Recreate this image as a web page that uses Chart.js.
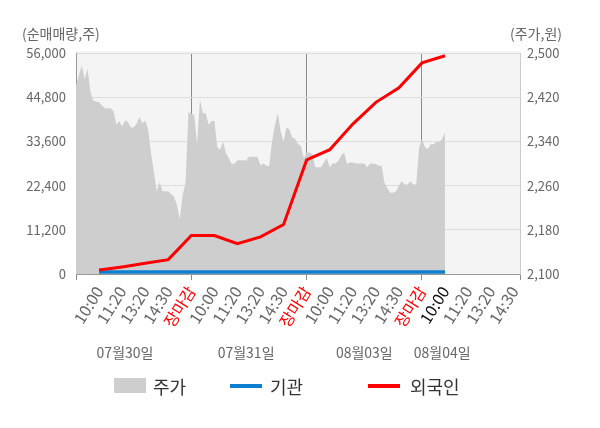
<!DOCTYPE html>
<html>
<head>
<meta charset="utf-8">
<script src="https://cdn.jsdelivr.net/npm/chart.js@4.4.0/dist/chart.umd.min.js"></script>
<style>
  body { margin: 0; background: #fff; }
  #wrap { position: relative; width: 600px; height: 428px; font-family: "Noto Sans CJK KR", "Noto Sans", sans-serif; }
  .lg { position: absolute; top: 374px; font-size: 18px; line-height: 24px; color: #333; }
  .mark { position: absolute; }
</style>
</head>
<body>
<div id="wrap">
  <canvas id="chart" width="600" height="428"></canvas>
  <div class="mark" style="left:114px;top:378px;width:32px;height:15px;background:#cecece"></div>
  <div class="lg" style="left:153px">주가</div>
  <div class="mark" style="left:230px;top:384px;width:32px;height:4px;background:#0b7fd0"></div>
  <div class="lg" style="left:270px">기관</div>
  <div class="mark" style="left:368px;top:384px;width:32px;height:4px;background:#ff0000"></div>
  <div class="lg" style="left:410px">외국인</div>
</div>
<script>
// x labels, one per slot
const timeLabels = [
  "10:00", "11:20", "13:20", "14:30", "장마감",
  "10:00", "11:20", "13:20", "14:30", "장마감",
  "10:00", "11:20", "13:20", "14:30", "장마감",
  "10:00", "11:20", "13:20", "14:30"
];
const dayLabels = ["07월30일", "07월31일", "08월03일", "08월04일"];

// price (원), 8 points per slot, from 09:00 of 07/30 to 10:00 of 08/04
const priceData = [
  2440, 2460, 2477, 2453, 2471, 2429, 2414, 2412, 2411, 2405,
  2400, 2400, 2400, 2395, 2370, 2377, 2367, 2378, 2375, 2365,
  2365, 2372, 2384, 2373, 2378, 2362, 2320, 2285, 2250, 2266,
  2250, 2250, 2250, 2245, 2240, 2225, 2199, 2244, 2265, 2393,
  2390, 2388, 2335, 2416, 2391, 2391, 2370, 2377, 2377, 2330,
  2325, 2340, 2318, 2310, 2299, 2300, 2306, 2306, 2306, 2305,
  2312, 2312, 2312, 2312, 2296, 2300, 2296, 2295, 2340, 2370,
  2391, 2358, 2340, 2365, 2362, 2347, 2345, 2335, 2332, 2310,
  2320, 2320, 2317, 2293, 2293, 2293, 2302, 2310, 2293, 2300,
  2300, 2305, 2315, 2320, 2299, 2302, 2302, 2300, 2300, 2300,
  2300, 2293, 2300, 2300, 2299, 2296, 2296, 2265, 2255, 2247,
  2247, 2250, 2260, 2268, 2262, 2262, 2268, 2262, 2262, 2329,
  2345, 2330, 2326, 2335, 2335, 2339, 2339, 2345, 2356
];

// cumulative net buying (주), one value per labelled slot
const foreignData = [1000, 1800, 2700, 3640, 9750, 9750, 7710, 9410, 12550, 28900, 31500, 38000, 43500, 47200, 53500, 55300];
const instData    = [500, 500, 500, 500, 500, 500, 500, 500, 500, 500, 500, 500, 500, 500, 500, 500];

const leftTicks  = [0, 11200, 22400, 33600, 44800, 56000];
const rightTicks = [2100, 2180, 2260, 2340, 2420, 2500];

// layout
const PER_SLOT = 8;
const N = timeLabels.length * PER_SLOT + 3;
const DAY = 5 * PER_SLOT;

const categories = Array.from({ length: N }, (_, i) =>
  (i > 0 && i % PER_SLOT === 0 && i / PER_SLOT <= timeLabels.length) ? timeLabels[i / PER_SLOT - 1] : "");

const toSlots = (vals) => {
  const arr = new Array(N).fill(null);
  vals.forEach((v, k) => { arr[(k + 1) * PER_SLOT] = v; });
  return arr;
};

const fmt = (v) => v.toLocaleString("en-US");
const FONT = "'Noto Sans CJK KR', 'Noto Sans', sans-serif";

const plotBg = {
  id: "plotBg",
  beforeDraw(chart) {
    const { ctx, chartArea: a } = chart;
    ctx.save();
    ctx.fillStyle = "#f4f4f4";
    ctx.fillRect(a.left, a.top - 2, a.right - a.left, a.bottom - a.top + 2);
    ctx.restore();
  }
};

const extras = {
  id: "extras",
  afterDraw(chart) {
    const { ctx } = chart;
    const xs = chart.scales.x;
    ctx.save();
    ctx.fillStyle = "#666";
    ctx.font = "14px " + FONT;
    ctx.textBaseline = "middle";
    ctx.textAlign = "left";
    ctx.fillText("(순매매량,주)", 22, 34);
    ctx.textAlign = "right";
    ctx.fillText("(주가,원)", 562, 34);
    // day names under the time labels
    const dayPos = [17, 59, 100, 127];
    ctx.textAlign = "center";
    dayLabels.forEach((d, i) => ctx.fillText(d, xs.getPixelForValue(dayPos[i]), 353));
    ctx.restore();
  }
};

const isBoundary = (i) => i > 0 && i % DAY === 0 && i < N - 3;

new Chart(document.getElementById("chart").getContext("2d"), {
  type: "line",
  data: {
    labels: categories,
    datasets: [
      {
        label: "외국인",
        data: toSlots(foreignData),
        yAxisID: "y",
        borderColor: "#ff0000",
        borderWidth: 3,
        pointRadius: 0,
        spanGaps: true,
        tension: 0,
        order: 0
      },
      {
        label: "기관",
        data: toSlots(instData),
        yAxisID: "y",
        borderColor: "#0b7fd0",
        borderWidth: 3.5,
        pointRadius: 0,
        spanGaps: true,
        tension: 0,
        order: 1
      },
      {
        label: "주가",
        data: priceData,
        yAxisID: "y2",
        borderWidth: 0,
        borderColor: "#cecece",
        backgroundColor: "#cecece",
        fill: "start",
        pointRadius: 0,
        tension: 0,
        order: 2
      }
    ]
  },
  options: {
    responsive: false,
    animation: false,
    layout: { padding: { top: 53, left: 0, right: 0, bottom: 0 } },
    plugins: { legend: { display: false }, tooltip: { enabled: false } },
    scales: {
      x: {
        type: "category",
        offset: false,
        afterFit: (s) => { s.height = 154; },
        border: { color: "#999" },
        grid: {
          color: (c) => isBoundary(c.index) ? "#8a8a8a" : "transparent",
          tickColor: (c) => (c.index === 0 || c.index === N - 1 || isBoundary(c.index)) ? "#8a8a8a" : "transparent",
          tickLength: 6
        },
        ticks: {
          autoSkip: false,
          minRotation: 58,
          maxRotation: 58,
          padding: 3,
          font: { family: FONT, size: 16 },
          color: (c) => {
            const t = categories[c.index];
            if (t === "장마감") return "#ff0000";
            if (c.index === 15 * PER_SLOT + PER_SLOT) return "#111";
            return "#666";
          }
        }
      },
      y: {
        position: "left",
        min: leftTicks[0],
        max: leftTicks[leftTicks.length - 1],
        afterFit: (s) => { s.width = 76; },
        afterBuildTicks: (s) => { s.ticks = leftTicks.map((v) => ({ value: v })); },
        border: { color: "#999" },
        grid: { color: "#dddddd", drawTicks: false },
        ticks: {
          padding: 10,
          color: "#666",
          font: { family: FONT, size: 13 },
          callback: (v) => fmt(v)
        }
      },
      y2: {
        position: "right",
        min: rightTicks[0],
        max: rightTicks[rightTicks.length - 1],
        afterFit: (s) => { s.width = 80; },
        afterBuildTicks: (s) => { s.ticks = rightTicks.map((v) => ({ value: v })); },
        border: { color: "#cccccc" },
        grid: { display: false, drawTicks: false },
        ticks: {
          padding: 7,
          color: "#666",
          font: { family: FONT, size: 13 },
          callback: (v) => fmt(v)
        }
      }
    }
  },
  plugins: [plotBg, extras]
});
</script>
</body>
</html>
